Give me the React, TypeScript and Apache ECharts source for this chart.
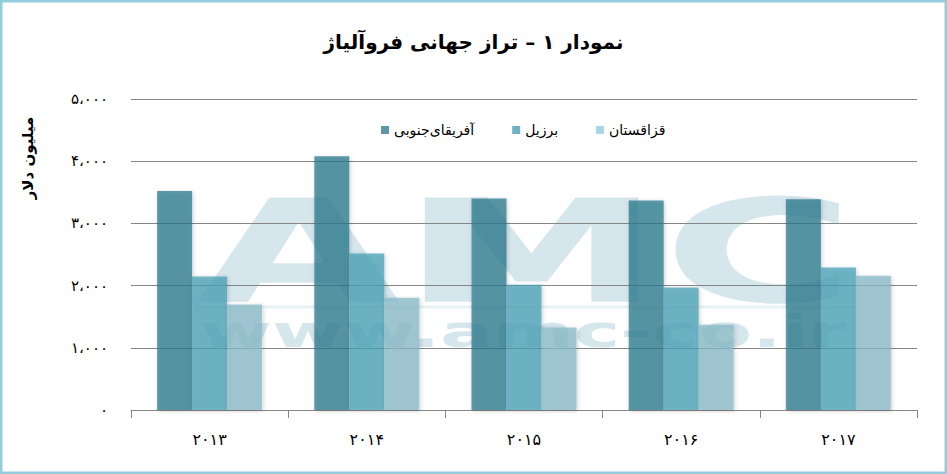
import React, { useEffect, useRef } from "react";
import * as echarts from "echarts";

const titleText = "نمودار ۱ – تراز جهانی فروآلیاژ";
const yAxisTitle = "میلیون دلار";
const categories = ["۲۰۱۳", "۲۰۱۴", "۲۰۱۵", "۲۰۱۶", "۲۰۱۷"];
const seriesNames = ["آفریقای\u200cجنوبی", "برزیل", "قزاقستان"];
const southAfrica = [3520, 4080, 3400, 3370, 3390];
const brazil = [2145, 2515, 2015, 1970, 2290];
const kazakhstan = [1695, 1805, 1325, 1370, 2160];
const yMax = 5000;
const yInterval = 1000;

const faDigits = "۰۱۲۳۴۵۶۷۸۹";
function toFa(v: number): string {
  const s = String(Math.round(v)).replace(/\B(?=(\d{3})+(?!\d))/g, "،");
  return s.replace(/\d/g, (d) => faDigits[Number(d)]);
}

const colors = ["rgba(40,120,140,0.74)", "rgba(70,160,182,0.74)", "rgba(135,186,200,0.74)"];
const legendColors = ["#5B97A6", "#6FB2C4", "#A9D6E2"];
const FONT = "DejaVu Sans";

export default function App() {
  const ref = useRef<HTMLDivElement>(null);
  useEffect(() => {
    if (!ref.current) return;
    const chart = echarts.init(ref.current, undefined, { renderer: "svg" });
    const values = [southAfrica, brazil, kazakhstan];
    chart.setOption({
      animation: false,
      backgroundColor: "#ffffff",
      textStyle: { fontFamily: FONT },
      title: {
        text: titleText,
        left: "center",
        top: 27,
        textStyle: { fontFamily: FONT, fontSize: 20, fontWeight: "bold", color: "#000" },
      },
      legend: {
        left: 376,
        top: 118,
        itemWidth: 8,
        itemHeight: 8,
        itemGap: 38,
        icon: "rect",
        textStyle: { fontFamily: FONT, fontSize: 14, color: "#000" },
        data: seriesNames.map((n, i) => ({ name: n, itemStyle: { color: legendColors[i] } })),
      },
      grid: { left: 131, right: 30, top: 99, bottom: 64 },
      xAxis: {
        type: "category",
        data: categories,
        axisLine: { lineStyle: { color: "#868686", width: 1 } },
        axisTick: { show: true, length: 8, lineStyle: { color: "#868686" } },
        axisLabel: { margin: 21, fontFamily: FONT, fontSize: 16, color: "#000" },
      },
      yAxis: {
        type: "value",
        min: 0,
        max: yMax,
        interval: yInterval,
        axisLine: { show: false },
        axisTick: { show: false },
        splitLine: { lineStyle: { color: "#868686", width: 1 } },
        axisLabel: {
          margin: 23,
          fontFamily: FONT,
          fontSize: 15,
          color: "#000",
          formatter: (v: number) => toFa(v),
        },
      },
      graphic: [
        {
          type: "text",
          x: 197,
          y: 252,
          scaleX: 1.84,
          z: -10,
          silent: true,
          style: {
            text: "AMC",
            fontFamily: FONT,
            fontWeight: "bold",
            fontSize: 143,
            fill: "#D5E6EC",
            textAlign: "left",
            textVerticalAlign: "middle",
          },
        },
        {
          type: "line",
          z: -10,
          silent: true,
          shape: { x1: 195, y1: 307, x2: 860, y2: 307 },
          style: { stroke: "#E8F1F4", lineWidth: 3 },
        },
        {
          type: "text",
          x: 200,
          y: 331,
          scaleX: 1.73,
          z: -10,
          silent: true,
          style: {
            text: "www.amc-co.ir",
            fontFamily: FONT,
            fontWeight: "bold",
            fontSize: 45,
            fill: "#D5E6EC",
            textAlign: "left",
            textVerticalAlign: "middle",
          },
        },
        {
          type: "text",
          x: 28,
          y: 158,
          rotation: Math.PI / 2,
          silent: true,
          style: {
            text: yAxisTitle,
            fontFamily: FONT,
            fontWeight: "bold",
            fontSize: 15,
            fill: "#000",
            textAlign: "center",
            textVerticalAlign: "middle",
          },
        },
        {
          type: "rect",
          silent: true,
          z: 100,
          shape: { x: 1.25, y: 1.25, width: 944.5, height: 471.5 },
          style: { fill: "none", stroke: "#93CDDD", lineWidth: 2.5 },
        },
      ],
      series: seriesNames.map((n, i) => ({
        name: n,
        type: "bar",
        data: values[i],
        barWidth: 35,
        barGap: "0%",
        itemStyle: {
          color: colors[i],
          shadowBlur: 4,
          shadowColor: "rgba(0,0,0,0.25)",
          shadowOffsetX: 1,
          shadowOffsetY: 1,
        },
      })),
    });
    return () => chart.dispose();
  }, []);
  return (
    <div
      ref={ref}
      style={{ position: "fixed", left: 0, top: 0, width: 947, height: 474 }}
    />
  );
}
